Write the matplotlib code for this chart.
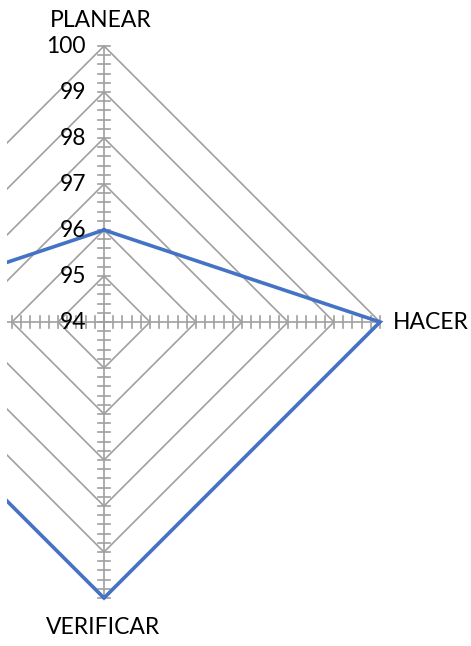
import numpy as np
import matplotlib.pyplot as plt

plt.rcParams['font.family'] = ['Lato', 'DejaVu Sans']

categorias = ["PLANEAR", "HACER", "VERIFICAR", "ACTUAR"]
valores = [96, 100, 100, 100]
r_min, r_max = 94, 100
niveles = [95, 96, 97, 98, 99, 100]
etiquetas_eje = ["94", "95", "96", "97", "98", "99", "100"]

azul = "#4472C4"
gris = "#A0A0A0"

# angle of each category: up, right, down, left
angulos = np.deg2rad([90, 0, -90, 180])

px = 46.0  # pixels per unit
fig = plt.figure(figsize=(4.71, 6.46), dpi=100)
left_px = 7
ax = fig.add_axes([left_px / 471, 0, 1 - left_px / 471, 1])
ax.set_xlim(-(104 - left_px) / px, (471 - 104) / px)
ax.set_ylim(-(646 - 322) / px, 322 / px)
ax.axis("off")


def xy(val, ang):
    r = val - r_min
    return r * np.cos(ang), r * np.sin(ang)


# diamond grid
for lv in niveles:
    pts = [xy(lv, a) for a in angulos] + [xy(lv, angulos[0])]
    xs, ys = zip(*pts)
    ax.plot(xs, ys, color=gris, lw=1.2, zorder=1)

# spokes with tick marks
tick_vals = np.arange(r_min, r_max + 0.01, 0.2)
tl = 6 / px
for a in angulos:
    x1, y1 = xy(r_max, a)
    ax.plot([0, x1], [0, y1], color=gris, lw=1.2, zorder=1)
    for t in tick_vals:
        cx, cy = xy(t, a)
        dx, dy = -np.sin(a) * tl, np.cos(a) * tl
        ax.plot([cx - dx, cx + dx], [cy - dy, cy + dy], color=gris, lw=1.2, zorder=1)

# axis value labels
for i, lab in enumerate(etiquetas_eje):
    ax.text(-18 / px, (r_min + i) - r_min, lab, ha="right", va="center",
            fontsize=16.5, color="black", zorder=3)

# series
pts = [xy(v, a) for v, a in zip(valores, angulos)]
pts.append(pts[0])
xs, ys = zip(*pts)
ax.plot(xs, ys, color=azul, lw=2.6, solid_joinstyle="miter", zorder=2)

# category labels
ax.text(-3 / px, 302 / px, categorias[0], ha="center", va="center", fontsize=16.5)
ax.text(289 / px, 0, categorias[1], ha="left", va="center", fontsize=16.5)
ax.text(-1 / px, -306 / px, categorias[2], ha="center", va="center", fontsize=16.5)

fig.savefig("out.png", dpi=100)
